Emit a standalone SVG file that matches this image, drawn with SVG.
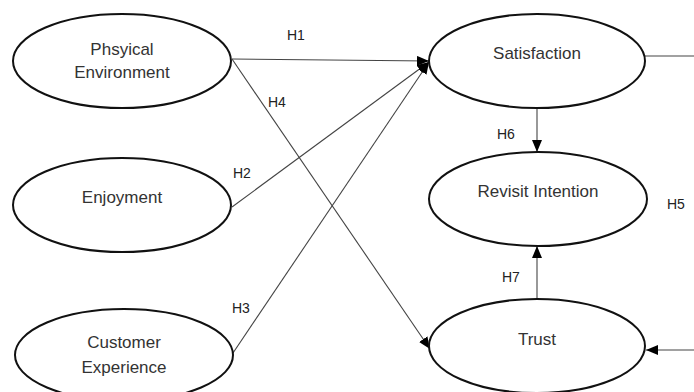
<svg xmlns="http://www.w3.org/2000/svg" width="694" height="392" viewBox="0 0 694 392">
<style>
.node ellipse{fill:#fff;stroke:#111;stroke-width:2}
.node text{font-family:"Liberation Sans",Arial,sans-serif;font-size:17px;fill:#333;text-anchor:middle}
.lbl{font-family:"Liberation Sans",Arial,sans-serif;font-size:14px;fill:#222}
.conn line{stroke:#444;stroke-width:1.1;fill:none}
</style>
<defs>
<marker id="ah" markerUnits="userSpaceOnUse" markerWidth="12" markerHeight="10" refX="12" refY="5" orient="auto">
<path d="M0,0 L12,5 L0,10 Z" fill="#000"/>
</marker>
</defs>
<rect width="694" height="392" fill="#fff"/>
<g id="connectors" class="conn">
<line id="h1" x1="232" y1="59" x2="429" y2="61" marker-end="url(#ah)"/>
<line id="h2" x1="232" y1="207" x2="429" y2="62" marker-end="url(#ah)"/>
<line id="h3" x1="233" y1="353" x2="429" y2="62" marker-end="url(#ah)"/>
<line id="h4" x1="232" y1="59" x2="430" y2="349" marker-end="url(#ah)"/>
<line id="h6" x1="537" y1="108" x2="537" y2="152" marker-end="url(#ah)"/>
<line id="h7" x1="537" y1="299" x2="537" y2="246" marker-end="url(#ah)"/>
<line id="h5a" x1="640" y1="56" x2="694" y2="56"/>
<line id="h5b" x1="694" y1="350" x2="646" y2="350" marker-end="url(#ah)"/>
</g>
<g id="labels">
<text class="lbl" x="287" y="40">H1</text>
<text class="lbl" x="268" y="107">H4</text>
<text class="lbl" x="233" y="178">H2</text>
<text class="lbl" x="232" y="313">H3</text>
<text class="lbl" x="497" y="139">H6</text>
<text class="lbl" x="502" y="282">H7</text>
<text class="lbl" x="667" y="209">H5</text>
</g>
<g id="physical-environment" class="node">
<ellipse cx="122" cy="61" rx="109" ry="47"/>
<text x="122" y="55">Phsyical</text>
<text x="122" y="78">Environment</text>
</g>
<g id="enjoyment" class="node">
<ellipse cx="122" cy="205" rx="109" ry="47"/>
<text x="122" y="203">Enjoyment</text>
</g>
<g id="customer-experience" class="node">
<ellipse cx="124" cy="355" rx="109" ry="46"/>
<text x="124" y="348">Customer</text>
<text x="124" y="373">Experience</text>
</g>
<g id="satisfaction" class="node">
<ellipse cx="537" cy="61" rx="108" ry="47"/>
<text x="537" y="59">Satisfaction</text>
</g>
<g id="revisit-intention" class="node">
<ellipse cx="538" cy="199" rx="109" ry="47"/>
<text x="538" y="197">Revisit Intention</text>
</g>
<g id="trust" class="node">
<ellipse cx="537" cy="346" rx="108" ry="47"/>
<text x="537" y="345">Trust</text>
</g>
</svg>
